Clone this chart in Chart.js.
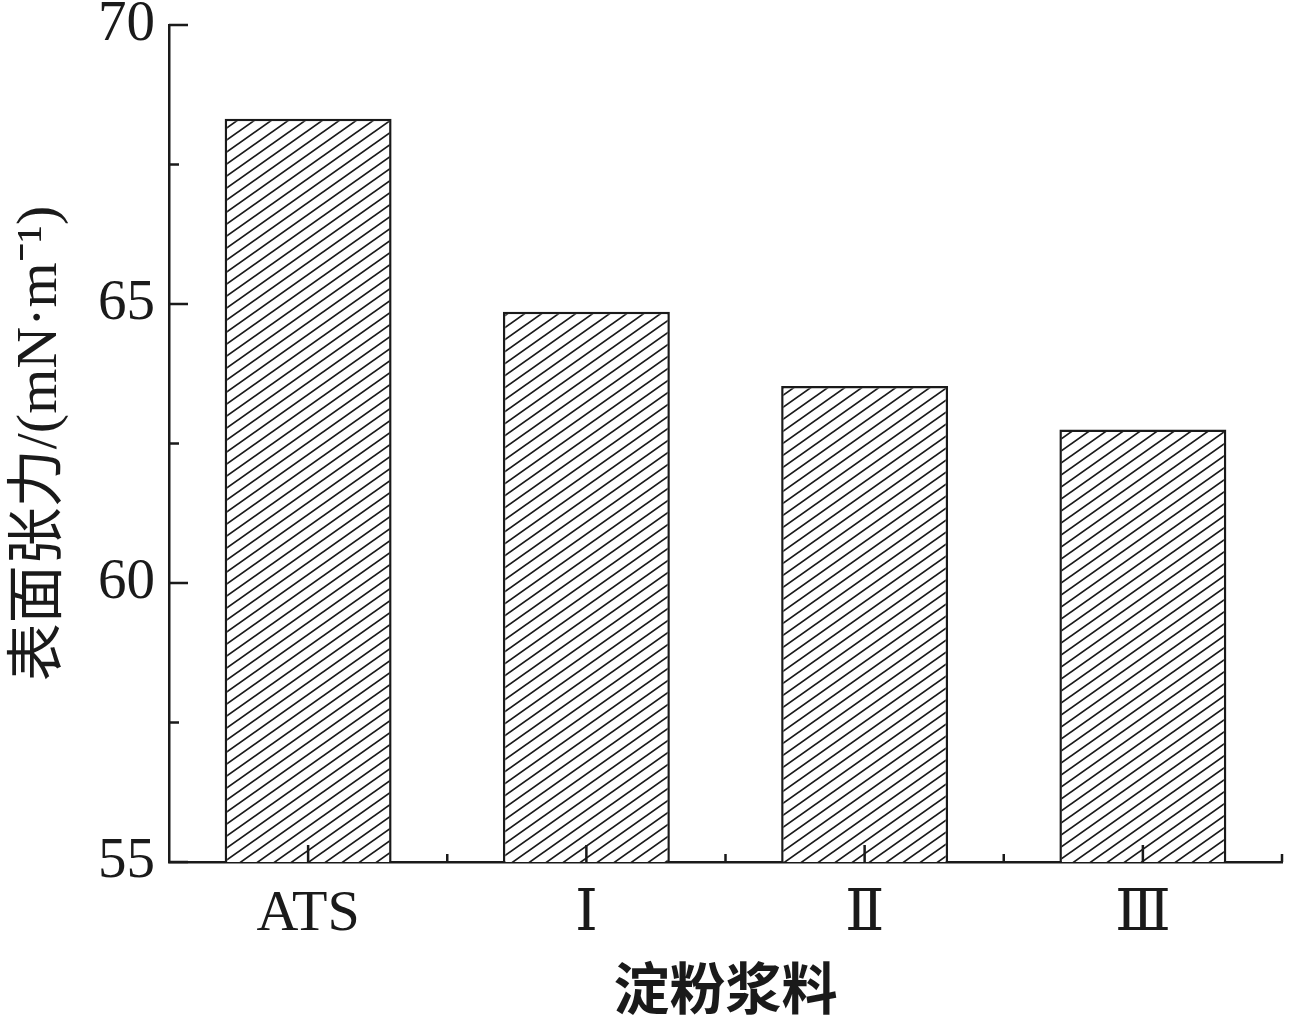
<!DOCTYPE html>
<html>
<head>
<meta charset="utf-8">
<script src="https://cdn.jsdelivr.net/npm/chart.js@4.4.1/dist/chart.umd.min.js"></script>
<style>
  html, body { margin: 0; padding: 0; background: #fff; }
  #wrap { width: 1294px; height: 1021px; }
</style>
</head>
<body>
<div id="wrap"><canvas id="chart"></canvas></div>
<script>
// data
const categories = ['ATS', 'Ⅰ', 'Ⅱ', 'Ⅲ'];
const tension = [68.32, 64.86, 63.53, 62.75];
const yMajor = [55, 60, 65, 70];
const yMinor = [57.5, 62.5, 67.5];

const ink = '#1a1a1a';
const serif = '"Liberation Serif", "DejaVu Serif", serif';

// diagonal hatch, lines running "/"
function hatch() {
    var w = 17, h = 12;
    var c = document.createElement('canvas');
    c.width = w; c.height = h;
    var g = c.getContext('2d');
    g.fillStyle = '#fff';
    g.fillRect(0, 0, w, h);
    g.strokeStyle = '#1a1a1a';
    g.lineWidth = 1.7;
    g.beginPath();
    g.moveTo(-w, 2 * h); g.lineTo(2 * w, -h);
    g.moveTo(-2 * w, 2 * h); g.lineTo(w, -h);
    g.moveTo(0, 2 * h); g.lineTo(3 * w, -h);
    g.stroke();
    return g.createPattern(c, 'repeat');
}

// inward ticks on both axes
const inwardTicks = {
    id: 'inwardTicks',
    afterDatasetsDraw(chart) {
        const ctx = chart.ctx, x = chart.scales.x, y = chart.scales.y;
        const left = chart.chartArea.left, bottom = chart.chartArea.bottom;
        ctx.save();
        ctx.strokeStyle = ink;
        ctx.lineWidth = 2.5;
        ctx.beginPath();
        yMajor.forEach(v => {
            const p = y.getPixelForValue(v);
            ctx.moveTo(left, p); ctx.lineTo(left + 19, p);
        });
        yMinor.forEach(v => {
            const p = y.getPixelForValue(v);
            ctx.moveTo(left, p); ctx.lineTo(left + 10, p);
        });
        categories.forEach((c, i) => {
            const p = x.getPixelForValue(i);
            ctx.moveTo(p, bottom); ctx.lineTo(p, bottom - 17);
            const q = x.getPixelForValue(i + 0.5);
            ctx.moveTo(q, bottom); ctx.lineTo(q, bottom - 8);
        });
        ctx.stroke();
        ctx.restore();
    }
};

new Chart(document.getElementById('chart'), {
    type: 'bar',
    data: {
        labels: categories,
        datasets: [{
            data: tension,
            backgroundColor: hatch(),
            borderColor: ink,
            borderWidth: 2.5,
            borderSkipped: false,
            categoryPercentage: 1,
            barPercentage: 0.6
        }]
    },
    options: {
        responsive: true,
        maintainAspectRatio: false,
        animation: false,
        devicePixelRatio: 1,
        layout: { padding: { top: 25, right: 12, left: 0, bottom: 0 } },
        plugins: { legend: { display: false }, tooltip: { enabled: false } },
        scales: {
            x: {
                grid: { display: false, drawTicks: false },
                border: { display: true, color: ink, width: 2.5 },
                ticks: { color: ink, padding: 18, font: { family: serif, size: 58 } },
                title: {
                    display: true, text: '淀粉浆料', color: ink,
                    font: { family: '"Noto Sans CJK SC"', size: 56, weight: '600' },
                    padding: { top: 4, bottom: 0 }
                },
                afterFit(s) { s.height = 159; s.paddingLeft = 0; s.paddingRight = 0; }
            },
            y: {
                min: 55, max: 70,
                grid: { display: false, drawTicks: false },
                border: { display: true, color: ink, width: 2.5 },
                afterBuildTicks(s) { s.ticks = yMajor.map(v => ({ value: v })); },
                ticks: { color: ink, padding: 14, font: { family: serif, size: 57 } },
                title: {
                    display: true, text: '表面张力/(mN·m⁻¹)', color: ink,
                    font: { family: '"Liberation Serif", "Noto Sans CJK SC"', size: 58 },
                    padding: { top: 6, bottom: 0 }
                },
                afterFit(s) { s.width = 169; s.paddingTop = 0; s.paddingBottom = 0; }
            }
        }
    },
    plugins: [inwardTicks]
});
</script>
</body>
</html>
